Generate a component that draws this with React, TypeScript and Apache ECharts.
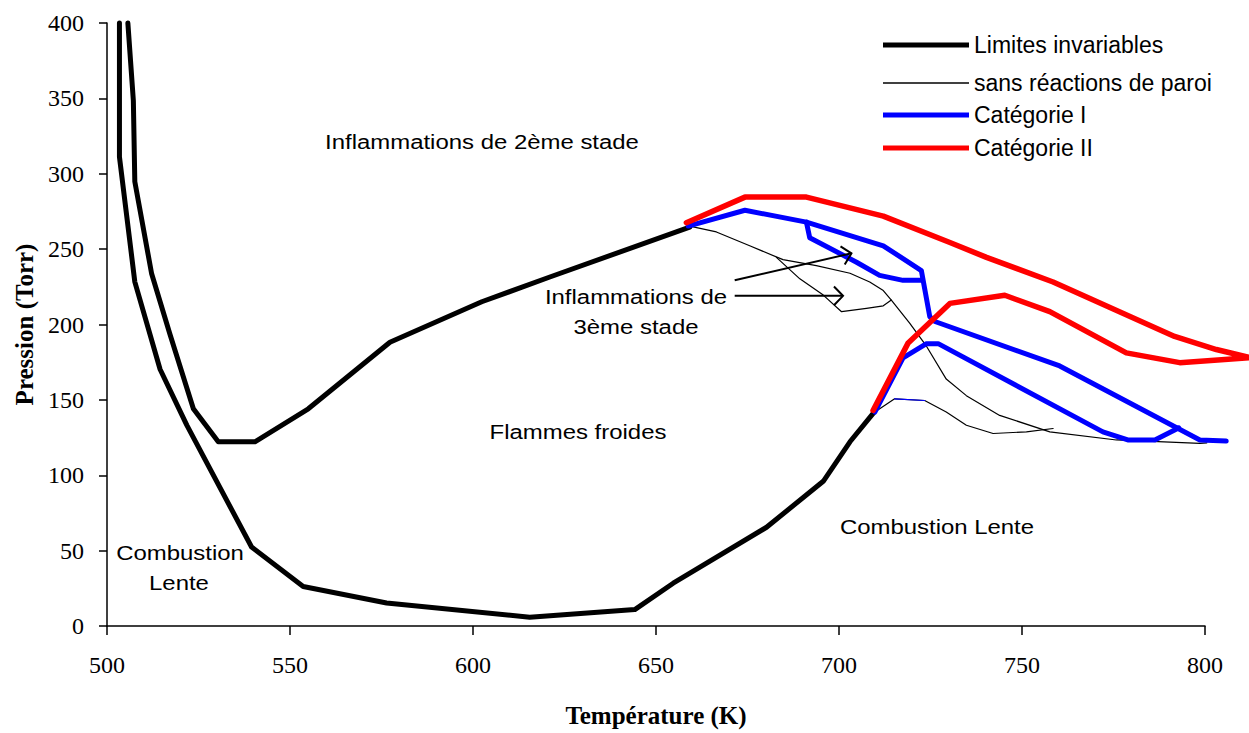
import React, { useEffect, useRef } from "react";
import * as echarts from "echarts";

// Axis ticks
const xTicks = [500, 550, 600, 650, 700, 750, 800];
const yTicks = [0, 50, 100, 150, 200, 250, 300, 350, 400];

// Limites invariables (thick black)
const limitUpper: [number, number][] = [
  [505.7, 400], [507.2, 348.5], [507.6, 294.8], [512.2, 233.6], [517.2, 193.5],
  [523.6, 144.1], [530.4, 122.2], [540.4, 122.2], [555, 144.1], [577.3, 188.2],
  [602.4, 215.1], [621, 231.5], [659.2, 264.6],
];
const limitLower: [number, number][] = [
  [503.4, 400], [503.4, 311.2], [507.6, 228.3], [514.5, 170.3], [521.8, 133.2],
  [539.5, 52.4], [553.6, 26.2], [576.4, 15.3], [615.5, 5.8], [644.2, 10.9],
  [654.7, 28.4], [680.2, 65.5], [695.7, 96], [703, 122.2], [709.5, 141.5],
];

// sans réactions de paroi (thin black)
const wallFreeMain: [number, number][] = [
  [659.2, 265.3], [666.5, 261.4], [675.6, 252.2], [684.7, 243], [693.8, 239.1],
  [703, 234], [708.4, 228.2], [712.1, 222.5], [714.3, 216.2], [719.3, 200.9],
  [723.9, 185.6], [729.3, 163.8], [734.8, 152.8], [743.9, 139.7], [757.6, 128.8],
  [775.8, 123.4], [798.6, 121.2], [800.5, 121.5],
];
const wallFreeLoop: [number, number][] = [
  [682.9, 244.5], [689.3, 230.3], [695.7, 219.5], [700.7, 208.5], [707.5, 210.7],
  [712.1, 212.4], [714.3, 216.2],
];
const wallFreeLower: [number, number][] = [
  [709.8, 141.9], [715.2, 150.7], [723.4, 149.6], [729.3, 141.9], [734.8, 133.2],
  [742.1, 127.7], [751.2, 128.8], [758.5, 131],
];
const wallFreeBlueBit: [number, number][] = [[715.2, 150.7], [723.4, 149.6]];

// Catégorie I (blue)
const cat1Upper: [number, number][] = [
  [658.8, 265.3], [674.3, 275.8], [691.1, 267.9], [712.1, 252.2], [722.5, 235.8],
  [724.8, 205.2], [726.2, 202], [760.3, 172.5], [798.6, 123.4], [805.8, 122.7],
];
const cat1Inner: [number, number][] = [
  [691.1, 267.9], [692, 257.6], [704.8, 241.3], [711.1, 232.6], [717.5, 229.3], [722.8, 229.3],
];
const cat1Lower: [number, number][] = [
  [709.8, 141.9], [717.5, 177.9], [723.9, 187.3], [727.1, 187.3], [772.1, 128.8],
  [778.9, 123.4], [786.3, 123.4], [791.7, 130], [792.8, 131.5],
];

// Catégorie II (red)
const cat2Loop: [number, number][] = [
  [658.3, 267.5], [674.3, 284.5], [691.1, 284.5], [712.1, 271.9], [730.3, 254.4],
  [740.3, 244.5], [758.5, 228.2], [791.7, 192.1], [803.1, 183.4], [812.4, 178],
  [793.1, 174.7], [778.5, 181.2], [757.6, 208.5], [745.3, 219.4], [730.3, 214],
  [718.9, 187.8], [709.3, 143],
];

// Arrows [x1, y1, x2, y2] in data units
const arrows: number[][] = [
  [671.5, 229.3, 703.4, 247.2],
  [671.5, 219, 701.1, 219],
];

const seriesNames = ["Limites invariables", "sans réactions de paroi", "Catégorie I", "Catégorie II"];

const BLACK = "#000000";
const BLUE = "#0000ff";
const RED = "#ff0000";

// A polyline drawn through the grid's own scale (api.coord), not clipped to the grid
function curveSeries(name: string, pts: [number, number][], color: string, width: number, z: number) {
  return {
    type: "custom",
    name,
    z,
    clip: false,
    data: pts,
    encode: { x: 0, y: 1 },
    itemStyle: { color },
    emphasis: { disabled: true },
    renderItem: (params: any, api: any) => {
      if (params.dataIndex !== 0) return null;
      const points = pts.map((p) => api.coord(p));
      return {
        type: "polyline",
        shape: { points },
        style: { stroke: color, lineWidth: width, fill: null, lineJoin: "round", lineCap: "round" },
      };
    },
  };
}

export default function App() {
  const ref = useRef<HTMLDivElement>(null);

  useEffect(() => {
    if (!ref.current) return;
    const chart = echarts.init(ref.current, null, { renderer: "svg" });
    const sans = "Liberation Sans";
    const serif = "Liberation Serif";

    const label = (text: string, x: number, y: number) => ({
      type: "text",
      x,
      y,
      scaleX: 1.14,
      style: {
        text,
        font: `21px "${sans}"`,
        fill: "#000",
        align: "center",
        verticalAlign: "middle",
      },
    });

    const legendText = { fontFamily: sans, fontSize: 23, color: "#000", lineHeight: 24 };
    const legendBase = {
      orient: "vertical",
      left: 878,
      itemWidth: 86,
      selectedMode: false,
      icon: "rect",
      textStyle: legendText,
    };

    chart.setOption({
      animation: false,
      backgroundColor: "#ffffff",
      grid: { left: 107, right: 44, top: 23, bottom: 100, containLabel: false },
      xAxis: {
        type: "value",
        min: xTicks[0],
        max: xTicks[xTicks.length - 1],
        interval: xTicks[1] - xTicks[0],
        name: "Température (K)",
        nameLocation: "middle",
        nameGap: 77,
        nameTextStyle: { fontFamily: serif, fontWeight: "bold", fontSize: 25, color: "#000" },
        axisLine: { lineStyle: { color: "#000", width: 1.5 } },
        axisTick: { show: true, length: 9, lineStyle: { color: "#000", width: 1.5 } },
        axisLabel: { fontFamily: serif, fontSize: 24, color: "#000", margin: 27 },
        splitLine: { show: false },
      },
      yAxis: {
        type: "value",
        min: yTicks[0],
        max: yTicks[yTicks.length - 1],
        interval: yTicks[1] - yTicks[0],
        name: "Pression (Torr)",
        nameLocation: "middle",
        nameGap: 70,
        nameTextStyle: { fontFamily: serif, fontWeight: "bold", fontSize: 25, color: "#000" },
        axisLine: { show: true, lineStyle: { color: "#000", width: 1.5 } },
        axisTick: { show: true, length: 8, lineStyle: { color: "#000", width: 1.5 } },
        axisLabel: { fontFamily: serif, fontSize: 24, color: "#000", margin: 23 },
        splitLine: { show: false },
      },
      legend: [
        { ...legendBase, top: 28, itemHeight: 5, data: [seriesNames[0]] },
        { ...legendBase, top: 66, itemHeight: 1.3, data: [seriesNames[1]] },
        { ...legendBase, top: 98, itemHeight: 5, itemGap: 9, data: [seriesNames[2], seriesNames[3]] },
      ],
      graphic: [
        label("Inflammations de 2ème stade", 482, 142),
        label("Inflammations de", 636, 297),
        label("3ème stade", 636, 327),
        label("Flammes froides", 578, 432),
        label("Combustion Lente", 937, 527),
        label("Combustion", 180, 553),
        label("Lente", 179, 583),
      ],
      series: [
        curveSeries(seriesNames[0], limitUpper, BLACK, 5, 4),
        curveSeries(seriesNames[0], limitLower, BLACK, 5, 4),
        curveSeries(seriesNames[1], wallFreeMain, BLACK, 1.2, 2),
        curveSeries(seriesNames[1], wallFreeLoop, BLACK, 1.2, 2),
        curveSeries(seriesNames[1], wallFreeLower, BLACK, 1.2, 2),
        curveSeries("trait bleu fin", wallFreeBlueBit, BLUE, 1.2, 3),
        curveSeries(seriesNames[2], cat1Upper, BLUE, 5, 5),
        curveSeries(seriesNames[2], cat1Inner, BLUE, 5, 5),
        curveSeries(seriesNames[2], cat1Lower, BLUE, 5, 5),
        curveSeries(seriesNames[3], cat2Loop, RED, 5.5, 6),
        {
          type: "custom",
          name: "flèches",
          data: arrows,
          encode: { x: [0, 2], y: [1, 3] },
          z: 7,
          clip: false,
          renderItem: (_params: any, api: any) => {
            const a = api.coord([api.value(0), api.value(1)]);
            const b = api.coord([api.value(2), api.value(3)]);
            const ang = Math.atan2(b[1] - a[1], b[0] - a[0]);
            const len = 13;
            const spread = 0.8;
            const p1 = [b[0] - len * Math.cos(ang - spread), b[1] - len * Math.sin(ang - spread)];
            const p2 = [b[0] - len * Math.cos(ang + spread), b[1] - len * Math.sin(ang + spread)];
            return {
              type: "group",
              children: [
                {
                  type: "line",
                  shape: { x1: a[0], y1: a[1], x2: b[0], y2: b[1] },
                  style: { stroke: "#000", lineWidth: 2 },
                },
                {
                  type: "polyline",
                  shape: { points: [p1, b, p2] },
                  style: { stroke: "#000", lineWidth: 2, fill: null },
                },
              ],
            };
          },
        },
      ],
    });

    return () => chart.dispose();
  }, []);

  return (
    <div
      ref={ref}
      style={{ position: "fixed", left: 0, top: 0, width: 1249, height: 733, background: "#fff" }}
    />
  );
}
